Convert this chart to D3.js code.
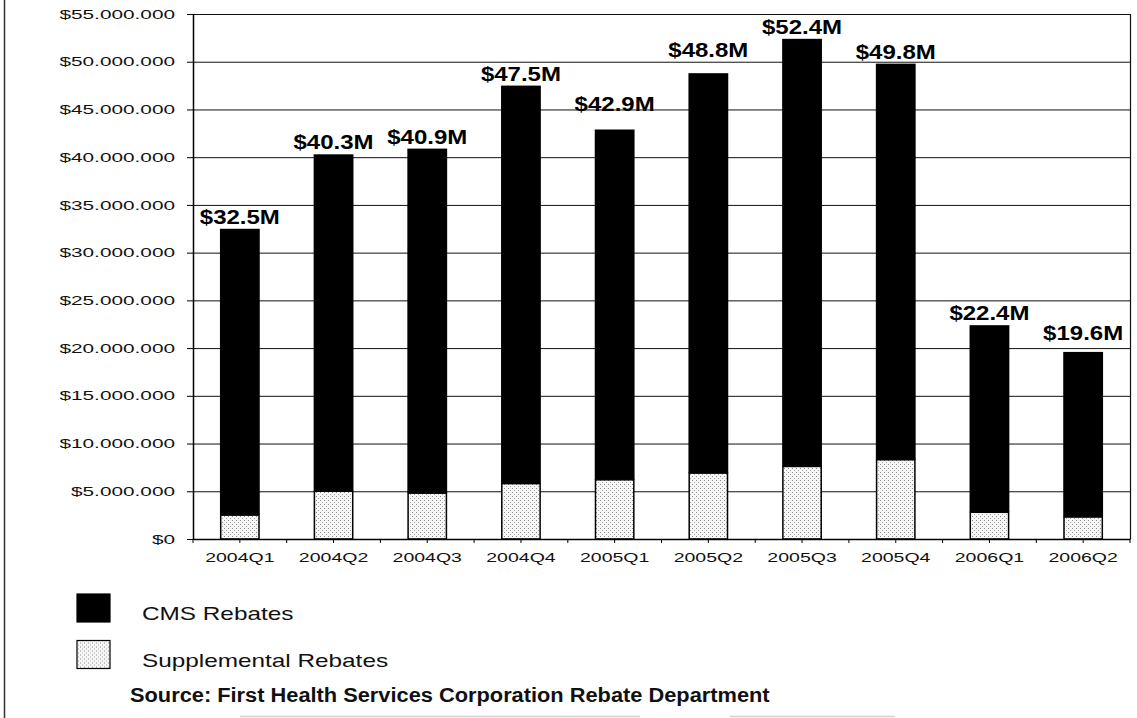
<!DOCTYPE html>
<html>
<head>
<meta charset="utf-8">
<script src="https://cdn.jsdelivr.net/npm/d3@7"></script>
<style>
  html, body { margin: 0; padding: 0; background: #fff; }
  svg { display: block; }
</style>
</head>
<body>
<svg id="chart" width="1137" height="718"></svg>
<script>
// Quarterly rebates, in millions of dollars
const quarters = ["2004Q1", "2004Q2", "2004Q3", "2004Q4", "2005Q1",
                  "2005Q2", "2005Q3", "2005Q4", "2006Q1", "2006Q2"];
const supplementalRebates = [2.5, 5.0, 4.8, 5.8, 6.2, 6.9, 7.6, 8.3, 2.8, 2.3];
const cmsRebates = [30.0, 35.3, 36.1, 41.7, 36.7, 41.9, 44.8, 41.5, 19.6, 17.3];

const yTickValues = [0, 5, 10, 15, 20, 25, 30, 35, 40, 45, 50, 55];
const yTickLabels = ["$0", "$5.000.000", "$10.000.000", "$15.000.000", "$20.000.000",
                     "$25.000.000", "$30.000.000", "$35.000.000", "$40.000.000",
                     "$45.000.000", "$50.000.000", "$55.000.000"];

const seriesNames = ["CMS Rebates", "Supplemental Rebates"];
const sourceNote = "Source: First Health Services Corporation Rebate Department";

// ---- layout ----
const W = 1137, H = 718;
const plot = { left: 193, right: 1130, top: 14, bottom: 539 };
const baseFont = "'Liberation Sans', Arial, Helvetica, sans-serif";
// a few value labels sit a little higher above their bars
const labelLift = { "2005Q1": 14, "2005Q2": 11, "2006Q2": 7 };

const svg = d3.select("#chart");

// stipple fill for the supplemental segments
const defs = svg.append("defs");
const pat = defs.append("pattern")
  .attr("id", "stipple").attr("patternUnits", "userSpaceOnUse")
  .attr("width", 4).attr("height", 4);
pat.append("rect").attr("width", 4).attr("height", 4).attr("fill", "#f6f6f6");
pat.append("rect").attr("x", 0).attr("y", 0).attr("width", 1).attr("height", 1).attr("fill", "#8a8a8a");
pat.append("rect").attr("x", 2).attr("y", 2).attr("width", 1).attr("height", 1).attr("fill", "#a8a8a8");

// horizontal stretch of text to a wider set width
function widen(sel, k) {
  sel.each(function () {
    const w = this.getComputedTextLength();
    d3.select(this).attr("textLength", w * k).attr("lengthAdjust", "spacingAndGlyphs");
  });
}

// extended-width glyphs: scale the text horizontally about its own anchor
function extend(sel, k) {
  sel.each(function () {
    const t = d3.select(this);
    const x0 = +t.attr("x") || 0;
    t.attr("x", x0 / k).attr("transform", `scale(${k},1)`);
  });
}

const x = d3.scaleBand()
  .domain(quarters)
  .range([plot.left, plot.right])
  .paddingInner(0.575)
  .paddingOuter(0.2875);

const y = d3.scaleLinear()
  .domain([0, 55])
  .range([plot.bottom, plot.top]);

// outer left frame line
svg.append("line")
  .attr("x1", 4.5).attr("x2", 4.5).attr("y1", 0).attr("y2", H)
  .attr("stroke", "#333").attr("stroke-width", 1.5);

// gridlines
svg.append("g")
  .attr("transform", `translate(${plot.left},0)`)
  .call(d3.axisLeft(y).tickValues(yTickValues).tickSize(-(plot.right - plot.left)).tickFormat(""))
  .call(g => g.select(".domain").remove())
  .call(g => g.selectAll("line").attr("stroke", "#111").attr("stroke-width", 1));

// right frame edge
svg.append("line")
  .attr("x1", plot.right + 0.5).attr("x2", plot.right + 0.5)
  .attr("y1", plot.top).attr("y2", plot.bottom)
  .attr("stroke", "#111").attr("stroke-width", 1.2);

// stacked bars
const rows = quarters.map((q, i) => ({
  q,
  supp: supplementalRebates[i],
  cms: cmsRebates[i],
  total: Math.round((supplementalRebates[i] + cmsRebates[i]) * 10) / 10
}));

const bars = svg.append("g");
bars.selectAll("rect.cms").data(rows).join("rect")
  .attr("class", "cms")
  .attr("x", d => x(d.q))
  .attr("width", x.bandwidth())
  .attr("y", d => y(d.total))
  .attr("height", d => y(d.supp) - y(d.total))
  .attr("fill", "#000");

bars.selectAll("rect.supp").data(rows).join("rect")
  .attr("class", "supp")
  .attr("x", d => x(d.q) + 0.75)
  .attr("width", x.bandwidth() - 1.5)
  .attr("y", d => y(d.supp))
  .attr("height", d => y(0) - y(d.supp))
  .attr("fill", "url(#stipple)")
  .attr("stroke", "#000").attr("stroke-width", 1.5);

// value labels (totals)
bars.selectAll("text.total").data(rows).join("text")
  .attr("class", "total")
  .attr("x", d => x(d.q) + x.bandwidth() / 2)
  .attr("y", d => y(d.total) - 5 - (labelLift[d.q] || 0))
  .attr("text-anchor", "middle")
  .attr("font-family", baseFont).attr("font-weight", "bold").attr("font-size", 20)
  .attr("fill", "#000")
  .text(d => `$${d.total.toFixed(1)}M`)
  .call(widen, 1.2);

// y axis
const yAxis = svg.append("g")
  .attr("transform", `translate(${plot.left},0)`)
  .call(d3.axisLeft(y).tickValues(yTickValues)
    .tickFormat((d, i) => yTickLabels[i]).tickSize(6).tickSizeOuter(0).tickPadding(12));
yAxis.select(".domain").attr("stroke", "#000").attr("stroke-width", 1.5);
yAxis.selectAll(".tick line").attr("stroke", "#000");
yAxis.selectAll("text")
  .attr("font-family", baseFont).attr("font-size", 13)
  .attr("fill", "#111")
  .call(extend, 1.6);

// x axis: ticks at each category centre and boundary
const xAxis = svg.append("g")
  .attr("transform", `translate(0,${plot.bottom})`)
  .call(d3.axisBottom(x).tickSize(4).tickSizeOuter(0).tickPadding(10));
xAxis.select(".domain").attr("stroke", "#000").attr("stroke-width", 1.5);
xAxis.selectAll(".tick line").attr("stroke", "#000");
xAxis.selectAll("text")
  .attr("font-family", baseFont).attr("font-size", 13)
  .attr("fill", "#111")
  .call(extend, 1.5);
xAxis.selectAll("line.edge").data(d3.range(quarters.length + 1)).join("line")
  .attr("class", "edge")
  .attr("x1", i => plot.left + i * x.step()).attr("x2", i => plot.left + i * x.step())
  .attr("y1", 0).attr("y2", 4)
  .attr("stroke", "#000");

// legend
const legendFills = ["#000", "url(#stipple)"];
const legend = svg.append("g");
const legendRows = legend.selectAll("g").data(seriesNames).join("g")
  .attr("transform", (d, i) => `translate(0,${i * 46.5})`);
legendRows.append("rect")
  .attr("x", 77).attr("y", 594).attr("width", 33).attr("height", 28)
  .attr("fill", (d, i) => legendFills[i])
  .attr("stroke", "#000").attr("stroke-width", 1.2);
legendRows.append("text")
  .attr("x", 142).attr("y", 620)
  .attr("font-family", baseFont).attr("font-size", 19).attr("fill", "#111")
  .text(d => d)
  .call(widen, 1.28);

// source note
svg.append("text")
  .attr("x", 130).attr("y", 702)
  .attr("font-family", baseFont).attr("font-weight", "bold").attr("font-size", 20)
  .attr("fill", "#111")
  .text(sourceNote)
  .call(widen, 1.09);

// faint rule below the note
svg.append("g").selectAll("line").data([[240, 640], [730, 895]]).join("line")
  .attr("x1", d => d[0]).attr("x2", d => d[1])
  .attr("y1", 716.5).attr("y2", 716.5)
  .attr("stroke", "#cfcfcf").attr("stroke-width", 1.5);
</script>
</body>
</html>
